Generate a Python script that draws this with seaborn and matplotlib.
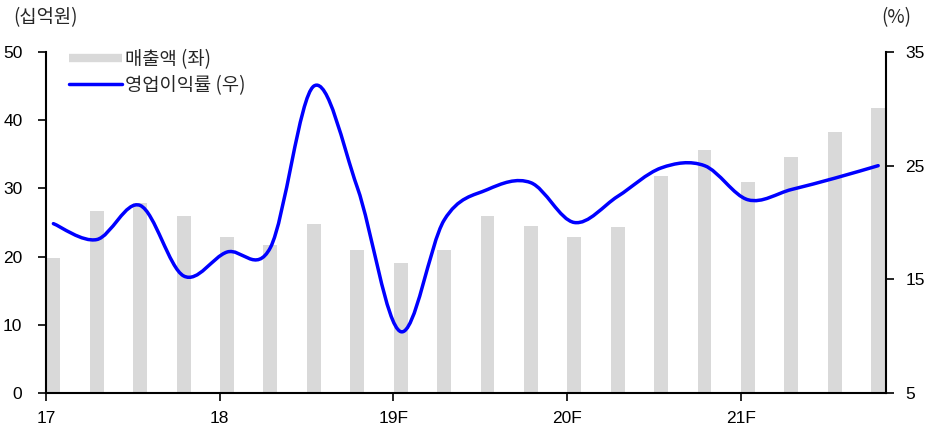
import matplotlib
matplotlib.use("Agg")
import matplotlib.pyplot as plt
import matplotlib.transforms as mtransforms
from matplotlib.path import Path
from matplotlib.patches import PathPatch
from matplotlib.lines import Line2D
import seaborn as sns
import pandas as pd
import numpy as np

quarters = ["1Q17", "2Q17", "3Q17", "4Q17", "1Q18", "2Q18", "3Q18", "4Q18",
            "1Q19", "2Q19", "3Q19", "4Q19", "1Q20", "2Q20", "3Q20", "4Q20",
            "1Q21", "2Q21", "3Q21", "4Q21"]
sales = [19.8, 26.7, 27.9, 26.0, 22.9, 21.7, 24.8, 20.9, 19.0, 20.9,
         26.0, 24.5, 22.9, 24.3, 31.8, 35.6, 30.9, 34.6, 38.2, 41.8]
opm = [19.9, 18.5, 21.5, 15.3, 17.4, 17.8, 32.0, 23.1, 10.4, 20.2,
       22.9, 23.5, 20.0, 22.3, 24.8, 25.0, 22.0, 22.9, 23.9, 25.0]
year_labels = ["17", "18", "19F", "20F", "21F"]
left_ticks = [0, 10, 20, 30, 40, 50]
right_ticks = [5, 15, 25, 35]
legend_labels = ["매출액 (좌)", "영업이익률 (우)"]

sns.set_theme(style="white")
plt.rcParams['font.family'] = ['Liberation Sans Narrow', 'Liberation Sans',
                               'Noto Sans CJK KR', 'DejaVu Sans']

W, H = 936, 425
fig = plt.figure(figsize=(W / 100, H / 100), dpi=100)
ax = fig.add_axes([46 / W, (H - 393) / H, (886 - 46) / W, (393 - 52) / H])

df = pd.DataFrame({"quarter": quarters, "sales": sales})
sns.barplot(data=df, x="quarter", y="sales", color="#d9d9d9", saturation=1,
            width=0.32, ax=ax, zorder=1)
for p in ax.patches:
    p.set_edgecolor("none")

ax.set_xlim(-0.17, 19.18)
ax.set_ylim(0, 50)
ax.set_yticks(left_ticks)
ax.set_yticklabels([str(t) for t in left_ticks])
ax.set_xlabel("")
ax.set_ylabel("")

# year ticks at year boundaries
tick_pos = [4 * k - 0.17 for k in range(len(year_labels))]
ax.set_xticks(tick_pos)
ax.set_xticklabels(year_labels)
offset = mtransforms.ScaledTranslation(8 / 100, 0, fig.dpi_scale_trans)
for lab in ax.get_xticklabels():
    lab.set_transform(lab.get_transform() + offset)

ax2 = ax.twinx()
ax2.set_ylim(5, 35)
ax2.set_yticks(right_ticks)
ax2.set_yticklabels([str(t) for t in right_ticks])

# Smooth (Excel-style) line through the data points
xs = np.arange(len(opm), dtype=float)
ys = np.array(opm, dtype=float)
n = len(xs)
verts = [(xs[0], ys[0])]
codes = [Path.MOVETO]
for i in range(n - 1):
    im1 = max(i - 1, 0)
    ip2 = min(i + 2, n - 1)
    c1 = (xs[i] + (xs[i + 1] - xs[im1]) / 6, ys[i] + (ys[i + 1] - ys[im1]) / 6)
    c2 = (xs[i + 1] - (xs[ip2] - xs[i]) / 6, ys[i + 1] - (ys[ip2] - ys[i]) / 6)
    verts += [c1, c2, (xs[i + 1], ys[i + 1])]
    codes += [Path.CURVE4, Path.CURVE4, Path.CURVE4]
patch = PathPatch(Path(verts, codes), facecolor="none", edgecolor="#0000ff",
                  lw=2.5, capstyle="round", joinstyle="round", zorder=3)
ax2.add_patch(patch)

for a in (ax, ax2):
    a.spines["top"].set_visible(False)
    for s in ["left", "right", "bottom"]:
        a.spines[s].set_color("black")
        a.spines[s].set_linewidth(1.5)

ax.spines["right"].set_visible(False)
ax2.spines["left"].set_visible(False)
ax2.spines["bottom"].set_visible(False)

ax.tick_params(axis="y", direction="out", length=6, width=1.2, color="black",
               labelsize=12.5, pad=11, left=True, labelcolor="black")
ax.tick_params(axis="x", direction="out", length=6, width=1.2, color="black",
               labelsize=12.5, pad=7, bottom=True, labelcolor="black")
ax2.tick_params(axis="y", direction="out", length=6, width=1.2, color="black",
                labelsize=12.5, pad=8, right=True, labelcolor="black")

fig.text(13 / W, 1 - 18 / H, "(십억원)", fontsize=13.5, va="center", ha="left",
         family=['Noto Sans CJK KR', 'DejaVu Sans'])
fig.text(911 / W, 1 - 18 / H, "(%)", fontsize=13.5, va="center", ha="right",
         family=['Noto Sans CJK KR', 'DejaVu Sans'])

handles = [Line2D([], [], color="#d9d9d9", lw=6, solid_capstyle="butt"),
           Line2D([], [], color="#0000ff", lw=2.5)]
leg = ax2.legend(handles, legend_labels, loc="upper left",
                 bbox_to_anchor=(69 / W, 1 - 49 / H), bbox_transform=fig.transFigure,
                 frameon=False, borderpad=0, borderaxespad=0, handlelength=2.8,
                 handletextpad=0.2, labelspacing=0.25,
                 prop={"family": ['Noto Sans CJK KR', 'DejaVu Sans'], "size": 13.5})

fig.savefig("out.png", dpi=100)
